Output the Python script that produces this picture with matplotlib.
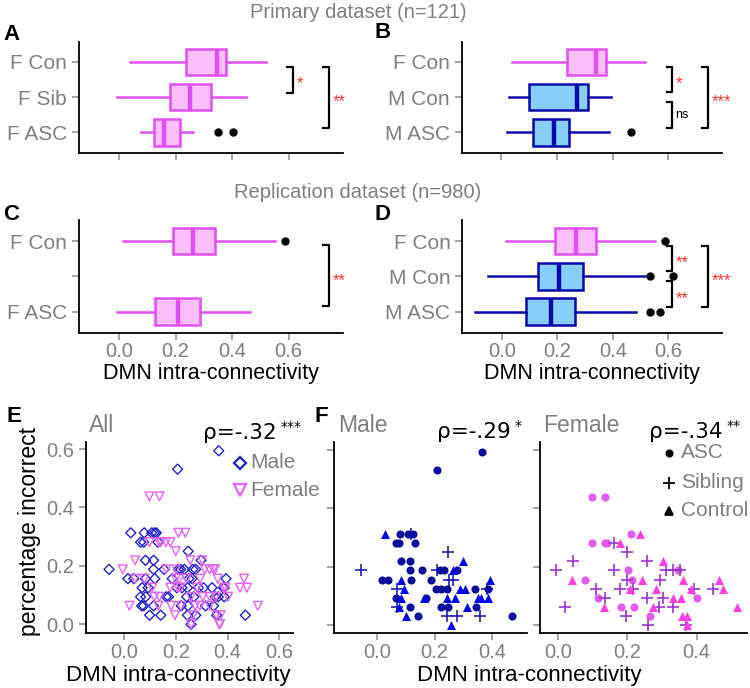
import matplotlib
matplotlib.use('Agg')
import matplotlib.pyplot as plt
import matplotlib.lines as mlines

plt.rcParams['font.family'] = ['Liberation Sans', 'DejaVu Sans']

W, H = 750, 688
GREY = '#7f7f7f'
F_EDGE, F_FILL = '#e04ff0', '#fdc0fd'
M_EDGE, M_FILL = '#0a0aa8', '#87cefa'
STAR = '#ff3333'

# ---- box plot summaries ----
a_ticks = ['F Con', 'F Sib', 'F ASC']
a_sex = ['F', 'F', 'F']
a_whislo = [0.039, -0.008, 0.076]
a_q1 = [0.238, 0.182, 0.124]
a_med = [0.346, 0.250, 0.158]
a_q3 = [0.377, 0.326, 0.214]
a_whishi = [0.519, 0.451, 0.262]
a_fliers = [[], [], [0.349, 0.402]]

b_ticks = ['F Con', 'M Con', 'M ASC']
b_sex = ['F', 'M', 'M']
b_whislo = [0.039, 0.028, 0.020]
b_q1 = [0.237, 0.098, 0.112]
b_med = [0.340, 0.271, 0.189]
b_q3 = [0.375, 0.310, 0.243]
b_whishi = [0.516, 0.393, 0.387]
b_fliers = [[], [], [0.467]]

c_ticks = ['F Con', '', 'F ASC']
c_sex = ['F', 'F']
c_whislo = [0.015, -0.006]
c_q1 = [0.192, 0.128]
c_med = [0.263, 0.210]
c_q3 = [0.340, 0.287]
c_whishi = [0.553, 0.462]
c_fliers = [[0.586], []]

d_ticks = ['F Con', 'M Con', 'M ASC']
d_sex = ['F', 'M', 'M']
d_whislo = [0.014, -0.052, -0.096]
d_q1 = [0.193, 0.131, 0.086]
d_med = [0.269, 0.205, 0.177]
d_q3 = [0.341, 0.294, 0.263]
d_whishi = [0.554, 0.516, 0.482]
d_fliers = [[0.588], [0.536, 0.618], [0.536, 0.572]]

# ---- scatter data: DMN intra-connectivity vs percentage incorrect ----
m_asc_x = [0.366, 0.207, 0.078, 0.107, 0.125, 0.064, 0.076, 0.131, 0.083, 0.114,
           0.114, 0.155, 0.219, 0.233, 0.277, 0.015, 0.038, 0.119, 0.186,
           0.204, 0.224, 0.245, 0.340, 0.387, 0.064, 0.172,
           0.114, 0.221, 0.247, 0.346, 0.142, 0.469]
m_asc_y = [0.594, 0.531, 0.313, 0.313, 0.313, 0.281, 0.281, 0.281, 0.219, 0.219,
           0.188, 0.188, 0.188, 0.188, 0.188, 0.156, 0.156, 0.156, 0.156,
           0.125, 0.125, 0.125, 0.125, 0.125, 0.094, 0.094,
           0.063, 0.063, 0.063, 0.063, 0.031, 0.031]
m_sib_x = [0.117, 0.248, -0.058, 0.210, 0.251, 0.263, 0.070, 0.384, 0.068, 0.245, 0.277, 0.358]
m_sib_y = [0.313, 0.250, 0.188, 0.188, 0.156, 0.156, 0.125, 0.125, 0.063, 0.031, 0.031, 0.031]
m_con_x = [0.026, 0.298, 0.266, 0.083, 0.394, 0.093, 0.288, 0.307, 0.084, 0.163,
           0.242, 0.270, 0.352, 0.364, 0.387, 0.076, 0.315, 0.099, 0.259]
m_con_y = [0.313, 0.219, 0.188, 0.156, 0.156, 0.125, 0.125, 0.125, 0.094, 0.094,
           0.094, 0.094, 0.094, 0.094, 0.094, 0.063, 0.063, 0.031, 0.000]

f_asc_x = [0.098, 0.137, 0.210, 0.098, 0.136, 0.143, 0.201, 0.345, 0.079, 0.213,
           0.117, 0.402, 0.182, 0.220, 0.266]
f_asc_y = [0.438, 0.438, 0.313, 0.281, 0.281, 0.281, 0.188, 0.188, 0.156, 0.156,
           0.094, 0.094, 0.063, 0.063, 0.031]
f_sib_x = [0.162, 0.200, 0.043, 0.256, -0.005, 0.162, 0.312, 0.331, 0.352, 0.200,
           0.294, 0.109, 0.179, 0.218, 0.392, 0.448, 0.136, 0.258, 0.304, 0.021,
           0.293, 0.331, 0.197, 0.259, 0.368]
f_sib_y = [0.281, 0.250, 0.219, 0.219, 0.188, 0.188, 0.188, 0.188, 0.188, 0.156,
           0.156, 0.125, 0.125, 0.125, 0.125, 0.125, 0.094, 0.094, 0.094, 0.063,
           0.063, 0.063, 0.031, 0.000, 0.000]
f_con_x = [0.237, 0.179, 0.302, 0.042, 0.242, 0.362, 0.464, 0.208, 0.283, 0.384,
           0.475, 0.331, 0.354, 0.133, 0.275, 0.517, 0.357, 0.373, 0.371]
f_con_y = [0.313, 0.281, 0.219, 0.156, 0.156, 0.156, 0.156, 0.125, 0.125, 0.125,
           0.125, 0.094, 0.094, 0.063, 0.063, 0.063, 0.031, 0.031, 0.000]

fig = plt.figure(figsize=(7.5, 6.88), dpi=100)


def px_axes(x0, y0, x1, y1):
    return fig.add_axes([x0 / W, 1 - y1 / H, (x1 - x0) / W, (y1 - y0) / H])


def ftext(x, y, s, **kw):
    fig.text(x / W, 1 - y / H, s, **kw)


def style(ax):
    for s in ['top', 'right']:
        ax.spines[s].set_visible(False)
    for s in ['left', 'bottom']:
        ax.spines[s].set_linewidth(1.3)
    ax.tick_params(color='#8c8c8c', labelcolor=GREY, labelsize=14.5, length=5, width=1.1)


def boxes(ax, ticks, sex, whislo, q1, med, q3, whishi, fliers, pos, show_x):
    stats = []
    for i in range(len(sex)):
        stats.append(dict(whislo=whislo[i], q1=q1[i], med=med[i], q3=q3[i],
                          whishi=whishi[i], fliers=fliers[i]))
    bp = ax.bxp(stats, positions=pos, widths=0.75, orientation='horizontal',
                patch_artist=True, showcaps=False,
                flierprops=dict(marker='o', markerfacecolor='k', markeredgecolor='k', markersize=5))
    for i, s in enumerate(sex):
        ec, fc = (F_EDGE, F_FILL) if s == 'F' else (M_EDGE, M_FILL)
        bp['boxes'][i].set(facecolor=fc, edgecolor=ec, linewidth=1.8)
        bp['medians'][i].set(color=ec, linewidth=3.2)
        for w in bp['whiskers'][2 * i:2 * i + 2]:
            w.set(color=ec, linewidth=1.8)
    style(ax)
    ax.set_yticks([1, 2, 3])
    ax.set_yticklabels(ticks, fontsize=15)
    ax.set_xlim(-0.143, 0.793)
    ax.set_xticks([0.0, 0.2, 0.4, 0.6])
    if show_x:
        ax.set_xticklabels(['0.0', '0.2', '0.4', '0.6'])
    else:
        ax.set_xticklabels([])
    ax.tick_params(axis='x', pad=2)


def bracket(ax, y0, y1, x0, x1, label, color, fs, ty):
    ax.plot([x0, x1, x1, x0], [y0, y0, y1, y1], color='k', lw=1.6, clip_on=False)
    ax.text(x1 + 0.012, ty, label, color=color, fontsize=fs, va='center', ha='left', clip_on=False)


# ---- top row ----
axA = px_axes(78.7, 42, 343, 153.3)
boxes(axA, a_ticks, a_sex, a_whislo, a_q1, a_med, a_q3, a_whishi, a_fliers, [1, 2, 3], False)
axA.set_ylim(3.59, 0.44)
bracket(axA, 1.14, 1.88, 0.595, 0.616, '*', STAR, 12, 1.62)
bracket(axA, 1.14, 2.86, 0.721, 0.744, '**', STAR, 12, 2.12)

axB = px_axes(461.7, 42, 721.7, 153.3)
boxes(axB, b_ticks, b_sex, b_whislo, b_q1, b_med, b_q3, b_whishi, b_fliers, [1, 2, 3], False)
axB.set_ylim(3.59, 0.44)
bracket(axB, 1.14, 1.86, 0.596, 0.614, '*', STAR, 12, 1.62)
bracket(axB, 2.14, 2.86, 0.596, 0.614, 'ns', 'k', 9, 2.52)
bracket(axB, 1.14, 2.86, 0.723, 0.744, '***', STAR, 12, 2.12)

# ---- middle row ----
axC = px_axes(78.7, 220, 343, 332.7)
boxes(axC, c_ticks, c_sex, c_whislo, c_q1, c_med, c_q3, c_whishi, c_fliers, [1, 3], True)
axC.set_ylim(3.6, 0.4)
bracket(axC, 1.12, 2.85, 0.721, 0.744, '**', STAR, 12, 2.12)

axD = px_axes(462.3, 220, 721.7, 332.7)
boxes(axD, d_ticks, d_sex, d_whislo, d_q1, d_med, d_q3, d_whishi, d_fliers, [1, 2, 3], True)
axD.set_ylim(3.6, 0.4)
bracket(axD, 1.14, 1.86, 0.596, 0.614, '**', STAR, 12, 1.62)
bracket(axD, 2.14, 2.86, 0.596, 0.614, '**', STAR, 12, 2.62)
bracket(axD, 1.14, 2.86, 0.723, 0.744, '***', STAR, 12, 2.12)

ftext(358, 12, 'Primary dataset (n=121)', color=GREY, fontsize=14.5, ha='center', va='center')
ftext(358, 192, 'Replication dataset (n=980)', color=GREY, fontsize=14.5, ha='center', va='center')
ftext(211, 374, 'DMN intra-connectivity', fontsize=15.5, ha='center', va='center')
ftext(592, 374, 'DMN intra-connectivity', fontsize=15.5, ha='center', va='center')

for lab, x, y in [('A', 3, 34), ('B', 374, 33), ('C', 3, 214), ('D', 374, 215),
                  ('E', 6, 417), ('F', 315, 417)]:
    ftext(x, y, lab, fontsize=16, fontweight='bold', ha='left', va='center')

# ---- bottom row: scatter ----
M_COL, F_COL = '#2323c8', '#e066f5'
axE = px_axes(86, 441.7, 293, 633.3)
axE.scatter(m_asc_x + m_sib_x + m_con_x, m_asc_y + m_sib_y + m_con_y, marker='D', s=26,
            facecolors='none', edgecolors=M_COL, linewidths=1.0)
axE.scatter(f_asc_x + f_sib_x + f_con_x, f_asc_y + f_sib_y + f_con_y, marker='v', s=40,
            facecolors='none', edgecolors=F_COL, linewidths=1.0)
style(axE)
axE.set_xlim(-0.147, 0.653)
axE.set_ylim(-0.031, 0.625)
axE.set_xticks([0.0, 0.2, 0.4, 0.6])
axE.set_xticklabels(['0.0', '0.2', '0.4', '0.6'])
axE.set_yticks([0.0, 0.2, 0.4, 0.6])
axE.set_yticklabels(['0.0', '0.2', '0.4', '0.6'])
axE.tick_params(axis='x', pad=2)

axFm = px_axes(334.3, 441.7, 527, 633)
axFm.scatter(m_sib_x, m_sib_y, marker='+', s=80, color='#1f1fb5', linewidths=1.2)
axFm.scatter(m_asc_x, m_asc_y, marker='o', s=34, color='#0b0b9e', linewidths=0)
axFm.scatter(m_con_x, m_con_y, marker='^', s=42, color='#0000f0', linewidths=0)
axFf = px_axes(540, 441.7, 747, 633)
axFf.scatter(f_asc_x, f_asc_y, marker='o', s=34, color='#e05cf0', linewidths=0)
axFf.scatter(f_sib_x, f_sib_y, marker='+', s=80, color='#9a35d2', linewidths=1.2)
axFf.scatter(f_con_x, f_con_y, marker='^', s=42, color='#ff3fe0', linewidths=0)
for ax, xl in [(axFm, (-0.150, 0.523)), (axFf, (-0.051, 0.545))]:
    style(ax)
    ax.set_xlim(*xl)
    ax.set_ylim(-0.027, 0.628)
    ax.set_xticks([0.0, 0.2, 0.4])
    ax.set_xticklabels(['0.0', '0.2', '0.4'])
    ax.set_yticks([0.0, 0.2, 0.4, 0.6])
    ax.set_yticklabels([])
    ax.tick_params(axis='x', pad=2)

ftext(89, 426, 'All', color=GREY, fontsize=16.5, ha='left', va='center')
ftext(338, 426, 'Male', color=GREY, fontsize=16.5, ha='left', va='center')
ftext(543, 426, 'Female', color=GREY, fontsize=16.5, ha='left', va='center')

for x, y, rho, stars in [(277, 433, 'ρ=-.32', '***'), (511, 432, 'ρ=-.29', '*'),
                         (723, 432, 'ρ=-.34', '**')]:
    ftext(x, y, rho, fontsize=15.5, family='DejaVu Sans', ha='right', va='center')
    ftext(x + 4, y - 6, stars, fontsize=10, family='DejaVu Sans', ha='left', va='center')

# legend of E
for y, mk, col, lab in [(463, 'D', M_COL, 'Male'), (490, 'v', F_COL, 'Female')]:
    fig.add_artist(mlines.Line2D([240 / W], [1 - y / H], marker=mk, markersize=8 if mk == 'v' else 6.5,
                                 markerfacecolor='none', markeredgecolor=col, markeredgewidth=1.6,
                                 linestyle='none', transform=fig.transFigure))
    ftext(250, y, lab, color=GREY, fontsize=15, ha='left', va='center')

# legend of F
for y, mk, ms, lab in [(453, 'o', 4.5, 'ASC'), (483, '+', 9, 'Sibling'), (511, '^', 5.5, 'Control')]:
    fig.add_artist(mlines.Line2D([669 / W], [1 - y / H], marker=mk, markersize=ms, color='k',
                                 markeredgewidth=1.3, linestyle='none', transform=fig.transFigure))
    ftext(681, y, lab, color=GREY, fontsize=15, ha='left', va='center')

ftext(178, 675, 'DMN intra-connectivity', fontsize=16, ha='center', va='center')
ftext(529, 675, 'DMN intra-connectivity', fontsize=16, ha='center', va='center')
ftext(30, 531, 'percentage incorrect', fontsize=16.5, rotation=90, ha='center', va='center')

fig.savefig('out.png', dpi=100)
